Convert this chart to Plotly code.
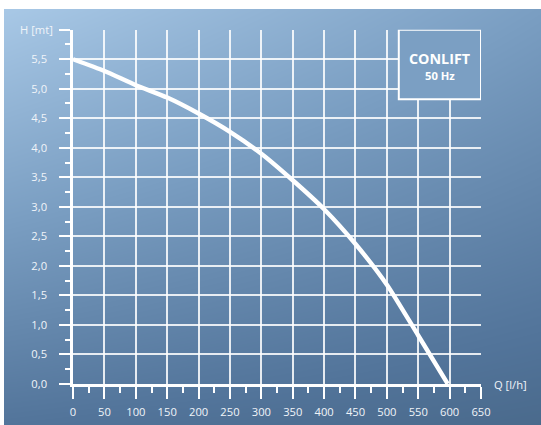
import plotly.graph_objects as go

# ---- data ----
flow_q = [0, 50, 100, 150, 200, 250, 300, 350, 400, 450, 500, 550, 597]
head_h = [5.5, 5.3, 5.06, 4.85, 4.58, 4.27, 3.9, 3.45, 2.96, 2.37, 1.68, 0.82, 0.0]

x_ticks = list(range(0, 651, 50))
x_labels = [str(v) for v in x_ticks]
y_ticks = [0.0, 0.5, 1.0, 1.5, 2.0, 2.5, 3.0, 3.5, 4.0, 4.5, 5.0, 5.5, 6.0]
y_labels = ["0,0", "0,5", "1,0", "1,5", "2,0", "2,5", "3,0", "3,5", "4,0", "4,5", "5,0", "5,5", ""]

title_main = "CONLIFT"
title_sub = "50 Hz"
y_title = "H [mt]"
x_title = "Q [l/h]"

# the photograph is shrunk by ~541/551, so lay the page out a little larger
W, H = 551, 433
SX, SY = W / 541.0, H / 425.0
ML, MT = round(4 * SX), round(9 * SY)
PW, PH = W - ML, H - MT

def px_x(p):
    return (p * SX - ML) / PW

def px_y(p):
    return (H - p * SY) / PH

FONT = "Open Sans"
TXT = "#f0f4f9"
FS = 11.2

fig = go.Figure()

# background gradient (decoration) on the base axes
fig.add_trace(go.Heatmap(
    x=[0, 1], y=[0, 1],
    z=[[0.12, 0.0], [1.0, 0.55]],
    zsmooth="best",
    colorscale=[[0, "#4a6a8c"], [0.12, "#52749a"], [0.55, "#7a9ec2"], [1, "#a8c8e6"]],
    showscale=False, hoverinfo="skip",
    xaxis="x", yaxis="y",
))

# pump curve
fig.add_trace(go.Scatter(
    x=flow_q, y=head_h, mode="lines",
    line=dict(color="white", width=4.4, shape="spline", smoothing=0.6),
    xaxis="x2", yaxis="y2", showlegend=False, hoverinfo="skip",
))

fig.update_layout(
    width=W, height=H,
    margin=dict(l=ML, r=0, t=MT, b=0),
    paper_bgcolor="white",
    plot_bgcolor="rgba(0,0,0,0)",
    showlegend=False,
    font=dict(family=FONT, color=TXT, size=FS),
    xaxis=dict(domain=[0, 1], range=[0, 1], visible=False, fixedrange=True),
    yaxis=dict(domain=[0, 1], range=[0, 1], visible=False, fixedrange=True),
    xaxis2=dict(
        domain=[px_x(73), px_x(481)], range=[0, 650], anchor="y2",
        tickmode="array", tickvals=x_ticks, ticktext=x_labels,
        showgrid=True, gridcolor="rgba(255,255,255,0.85)", gridwidth=1.6,
        showline=True, linecolor="white", linewidth=2.5,
        ticks="outside", ticklen=12, tickwidth=2, tickcolor="white",
        ticklabelstandoff=4,
        minor=dict(dtick=25, tick0=0, ticklen=6, tickwidth=1.5, tickcolor="white", showgrid=False, ticks="outside"),
        zeroline=False, tickfont=dict(size=FS, color=TXT),
    ),
    yaxis2=dict(
        domain=[px_y(383), px_y(29.5)], range=[0, 6], anchor="x2",
        tickmode="array", tickvals=y_ticks, ticktext=y_labels,
        showgrid=True, gridcolor="rgba(255,255,255,0.85)", gridwidth=1.6,
        showline=True, linecolor="white", linewidth=2.5,
        ticks="outside", ticklen=11, tickwidth=2, tickcolor="white",
        ticklabelstandoff=10,
        minor=dict(dtick=0.25, tick0=0, ticklen=5, tickwidth=1.5, tickcolor="white", showgrid=False, ticks="outside"),
        zeroline=False, tickfont=dict(size=FS, color=TXT),
    ),
)

# title box
fig.add_shape(type="rect", xref="x2", yref="y2", x0=519, x1=650, y0=4.82, y1=6.0,
              line=dict(color="white", width=2), fillcolor="#7b9fc3", layer="above")
fig.add_annotation(xref="x2", yref="y2", x=584.5, y=5.52, text="<b>%s</b>" % title_main,
                   showarrow=False, font=dict(size=14.3, color="white", family=FONT))
fig.add_annotation(xref="x2", yref="y2", x=584.5, y=5.23, text="<b>%s</b>" % title_sub,
                   showarrow=False, font=dict(size=FS, color="white", family=FONT))

fig.add_annotation(xref="paper", yref="paper", x=px_x(55), y=px_y(29), text=y_title,
                   xanchor="right", yanchor="middle", showarrow=False,
                   font=dict(size=FS, color=TXT, family=FONT))
fig.add_annotation(xref="paper", yref="paper", x=px_x(492), y=px_y(384), text=x_title,
                   xanchor="left", yanchor="middle", showarrow=False,
                   font=dict(size=FS, color=TXT, family=FONT))

fig.write_html(
    "out.html",
    config={"displayModeBar": False},
    post_script="document.documentElement.style.margin='0';document.body.style.margin='0';",
)
